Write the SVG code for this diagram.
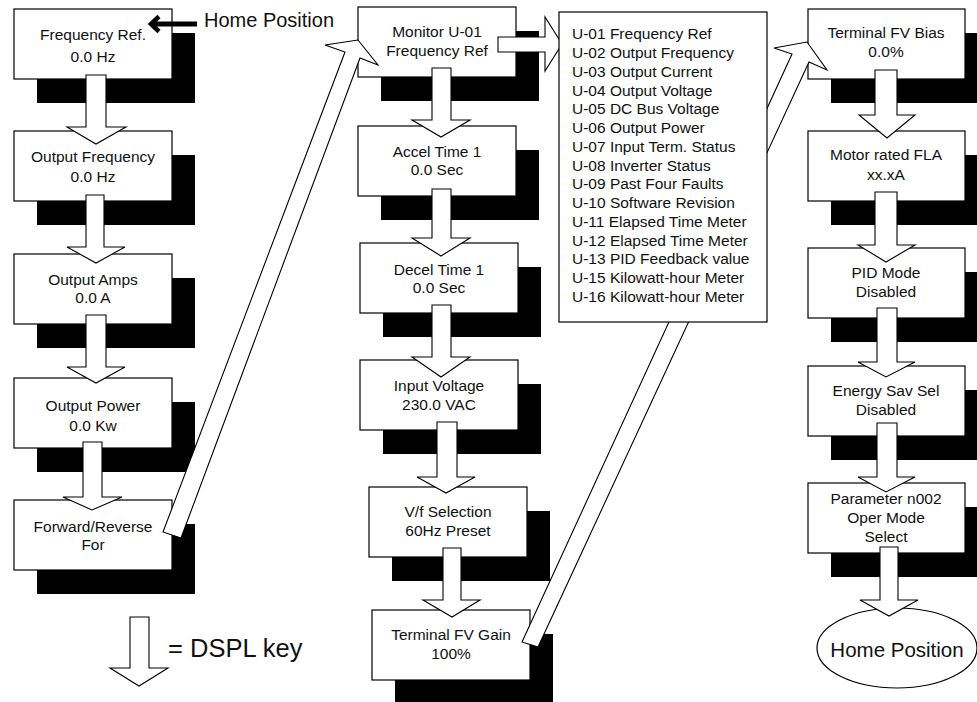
<svg xmlns="http://www.w3.org/2000/svg" width="977" height="702" viewBox="0 0 977 702">
<style>
.sh{fill:#000}
.bx{fill:#fff;stroke:#000;stroke-width:1.2}
.t{font-family:"Liberation Sans",Arial,sans-serif;font-size:15.5px;fill:#111;text-anchor:middle}
.lt{font-family:"Liberation Sans",Arial,sans-serif;font-size:15.5px;fill:#111}
.ar{fill:#fff;stroke:#000;stroke-width:1.1;stroke-linejoin:miter}
.big{font-family:"Liberation Sans",Arial,sans-serif;fill:#111}
</style>
<rect width="977" height="702" fill="#fff"/>

<g id="freq-ref"><rect class="sh" x="37" y="33" width="158" height="70"/><rect class="bx" x="14" y="9" width="158" height="70"/><text class="t" x="93" y="40">Frequency Ref.</text><text class="t" x="93" y="62">0.0 Hz</text></g>
<g id="output-frequency"><rect class="sh" x="37" y="155" width="158" height="70"/><rect class="bx" x="14" y="131" width="158" height="70"/><text class="t" x="93" y="162">Output Frequency</text><text class="t" x="93" y="182">0.0 Hz</text></g>
<g id="output-amps"><rect class="sh" x="37" y="278" width="158" height="70"/><rect class="bx" x="14" y="254" width="158" height="70"/><text class="t" x="93" y="285">Output Amps</text><text class="t" x="93" y="303">0.0 A</text></g>
<g id="output-power"><rect class="sh" x="37" y="402" width="158" height="70"/><rect class="bx" x="14" y="378" width="158" height="70"/><text class="t" x="93" y="411">Output Power</text><text class="t" x="93" y="431">0.0 Kw</text></g>
<g id="forward-reverse"><rect class="sh" x="37" y="524" width="158" height="70"/><rect class="bx" x="14" y="500" width="158" height="70"/><text class="t" x="93" y="532">Forward/Reverse</text><text class="t" x="93" y="550">For</text></g>

<g id="monitor-u01"><rect class="sh" x="381" y="31" width="158" height="70"/><rect class="bx" x="358" y="7" width="158" height="70"/><text class="t" x="437" y="37">Monitor U-01</text><text class="t" x="437" y="56">Frequency Ref</text></g>
<g id="accel-time"><rect class="sh" x="381" y="150" width="158" height="70"/><rect class="bx" x="358" y="126" width="158" height="70"/><text class="t" x="437" y="157">Accel Time 1</text><text class="t" x="437" y="175">0.0 Sec</text></g>
<g id="decel-time"><rect class="sh" x="383" y="267" width="158" height="70"/><rect class="bx" x="360" y="243" width="158" height="70"/><text class="t" x="439" y="275">Decel Time 1</text><text class="t" x="439" y="293">0.0 Sec</text></g>
<g id="input-voltage"><rect class="sh" x="383" y="384" width="158" height="70"/><rect class="bx" x="360" y="360" width="158" height="70"/><text class="t" x="439" y="391">Input Voltage</text><text class="t" x="439" y="410">230.0 VAC</text></g>
<g id="vf-selection"><rect class="sh" x="392" y="511" width="158" height="70"/><rect class="bx" x="369" y="487" width="158" height="70"/><text class="t" x="448" y="517">V/f Selection</text><text class="t" x="448" y="536">60Hz Preset</text></g>
<g id="terminal-fv-gain"><rect class="sh" x="395" y="634" width="158" height="70"/><rect class="bx" x="372" y="610" width="158" height="70"/><text class="t" x="451" y="640">Terminal FV Gain</text><text class="t" x="451" y="659">100%</text></g>

<g id="terminal-fv-bias"><rect class="sh" x="831" y="33" width="158" height="70"/><rect class="bx" x="808" y="9" width="157" height="70"/><text class="t" x="886" y="38">Terminal FV Bias</text><text class="t" x="886" y="57">0.0%</text></g>
<g id="motor-fla"><rect class="sh" x="831" y="155" width="158" height="70"/><rect class="bx" x="808" y="131" width="157" height="70"/><text class="t" x="886" y="160">Motor rated FLA</text><text class="t" x="886" y="180">xx.xA</text></g>
<g id="pid-mode"><rect class="sh" x="831" y="272" width="158" height="70"/><rect class="bx" x="808" y="248" width="157" height="70"/><text class="t" x="886" y="278">PID Mode</text><text class="t" x="886" y="297">Disabled</text></g>
<g id="energy-sav"><rect class="sh" x="831" y="390" width="158" height="70"/><rect class="bx" x="808" y="366" width="157" height="70"/><text class="t" x="886" y="396">Energy Sav Sel</text><text class="t" x="886" y="415">Disabled</text></g>
<g id="param-n002"><rect class="sh" x="831" y="507" width="158" height="70"/><rect class="bx" x="808" y="483" width="157" height="70"/><text class="t" x="886" y="504">Parameter n002</text><text class="t" x="886" y="523">Oper Mode</text><text class="t" x="886" y="542">Select</text></g>
<g id="home-position"><ellipse class="bx" cx="897" cy="648" rx="80" ry="40"/><text class="big" x="897" y="657" font-size="20.5" text-anchor="middle">Home Position</text></g>

<g id="connectors">
<path class="ar" d="M86 75H106V127H126L96 144L67 127H86Z"/>
<path class="ar" d="M86 195H104V247H125L96 263L67 247H86Z"/>
<path class="ar" d="M86 315H106V367H125L96 383L67 367H86Z"/>
<path class="ar" d="M83 442H102V497H122L92 510L63 497H83Z"/>
<path class="ar" d="M432 68H451V120H470L441 137L412 120H432Z"/>
<path class="ar" d="M432 189H451V238H470L441 256L412 238H432Z"/>
<path class="ar" d="M432 305H451V357H470L441 377L412 357H432Z"/>
<path class="ar" d="M437 422H457V477H475L446 493L417 477H437Z"/>
<path class="ar" d="M443 548H461V600H480L452 617L423 600H443Z"/>
<path class="ar" d="M875 70H897V115H915L887 138L859 115H875Z"/>
<path class="ar" d="M875 192H897V245H915L886 262L858 245H875Z"/>
<path class="ar" d="M877 308H897V362H915L886 377L858 362H877Z"/>
<path class="ar" d="M877 423H897V477H915L886 492L858 477H877Z"/>
<path class="ar" d="M880 547H898V600H918L889 616L860 600H880Z"/>
<path class="ar" d="M498 37H545V17L562 44L545 71V52H498Z"/>
<path class="ar" d="M163 532L345 52L325 45L358 40L378 65L360 58L181 538Z"/>
<path class="ar" d="M522 642L792 54L774 48L807 42L827 70L809 62L538 647Z"/>
<line x1="153" y1="24" x2="197" y2="24" stroke="#000" stroke-width="5"/>
<polyline points="159,16.5 151,24 159,31.5" fill="none" stroke="#000" stroke-width="4.5"/>
</g>

<g id="monitor-list">
<rect class="bx" x="559" y="12" width="208" height="310"/>
<text class="lt" x="572" y="39.3">U-01 Frequency Ref</text>
<text class="lt" x="572" y="58">U-02 Output Frequency</text>
<text class="lt" x="572" y="76.8">U-03 Output Current</text>
<text class="lt" x="572" y="95.5">U-04 Output Voltage</text>
<text class="lt" x="572" y="114.3">U-05 DC Bus Voltage</text>
<text class="lt" x="572" y="133">U-06 Output Power</text>
<text class="lt" x="572" y="151.8">U-07 Input Term. Status</text>
<text class="lt" x="572" y="170.5">U-08 Inverter Status</text>
<text class="lt" x="572" y="189.3">U-09 Past Four Faults</text>
<text class="lt" x="572" y="208">U-10 Software Revision</text>
<text class="lt" x="572" y="226.8">U-11 Elapsed Time Meter</text>
<text class="lt" x="572" y="245.5">U-12 Elapsed Time Meter</text>
<text class="lt" x="572" y="264.3">U-13 PID Feedback value</text>
<text class="lt" x="572" y="283">U-15 Kilowatt-hour Meter</text>
<text class="lt" x="572" y="301.8">U-16 Kilowatt-hour Meter</text>
</g>

<g id="home-label"><text class="big" x="204" y="27" font-size="20">Home Position</text></g>
<g id="legend">
<path class="ar" d="M130 617H149V668H168L139 686L110 668H130Z"/>
<text class="big" x="168" y="657" font-size="25.5">= DSPL key</text>
</g>
</svg>
